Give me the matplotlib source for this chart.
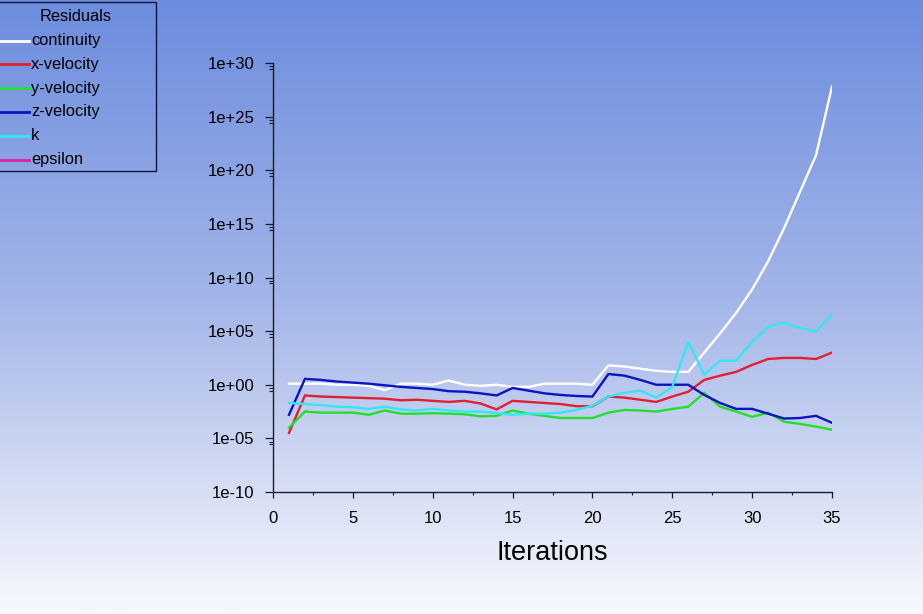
import numpy as np
import matplotlib
matplotlib.use("Agg")
import matplotlib.pyplot as plt
from matplotlib.lines import Line2D
from matplotlib.patches import Rectangle
from matplotlib.ticker import FixedLocator, FuncFormatter

plt.rcParams['font.family'] = ['Liberation Sans', 'DejaVu Sans']

iterations = list(range(1, 36))
series_names = ["continuity", "x-velocity", "y-velocity", "z-velocity", "k", "epsilon"]
series_colors = ["#ffffff", "#e0202c", "#22e02a", "#0a14c0", "#33e6f2", "#e0209e"]

# log10 of residuals
continuity_log = [0.1, 0.1, 0.1, 0.0, 0.0, -0.1, -0.5, 0.1, 0.1, 0.0,
                  0.4, 0.0, -0.1, 0.0, -0.2, -0.2, 0.1, 0.1, 0.1, 0.0,
                  1.8, 1.7, 1.5, 1.3, 1.2, 1.2, 3.0, 4.8, 6.7, 8.9,
                  11.5, 14.6, 18.0, 21.4, 27.8]
xvel_log = [-4.5, -1.0, -1.1, -1.15, -1.2, -1.25, -1.3, -1.45, -1.4, -1.5,
            -1.6, -1.5, -1.75, -2.3, -1.5, -1.6, -1.7, -1.8, -2.0, -2.0,
            -1.1, -1.2, -1.4, -1.6, -1.1, -0.65, 0.45, 0.85, 1.2, 1.85,
            2.4, 2.5, 2.5, 2.4, 3.0]
yvel_log = [-4.0, -2.5, -2.6, -2.6, -2.6, -2.8, -2.4, -2.7, -2.7, -2.65,
            -2.7, -2.75, -2.95, -2.9, -2.4, -2.7, -2.9, -3.1, -3.1, -3.1,
            -2.6, -2.35, -2.4, -2.5, -2.25, -2.05, -0.75, -2.05, -2.5, -3.0,
            -2.6, -3.45, -3.65, -3.9, -4.2]
zvel_log = [-2.8, 0.55, 0.45, 0.3, 0.2, 0.1, -0.05, -0.2, -0.3, -0.4,
            -0.6, -0.65, -0.8, -1.0, -0.3, -0.55, -0.8, -0.95, -1.05, -1.1,
            1.0, 0.85, 0.45, 0.0, 0.0, 0.0, -0.95, -1.7, -2.25, -2.25,
            -2.7, -3.15, -3.1, -2.9, -3.55]
k_log = [-1.7, -1.8, -1.9, -2.05, -2.1, -2.25, -2.05, -2.3, -2.4, -2.25,
         -2.4, -2.5, -2.5, -2.65, -2.8, -2.7, -2.7, -2.6, -2.35, -1.95,
         -1.1, -0.75, -0.55, -1.2, -0.2, 4.0, 0.95, 2.25, 2.25, 4.0,
         5.4, 5.8, 5.3, 4.95, 6.6]
epsilon_log = []  # not visible in the plot area

series_data = [continuity_log, xvel_log, yvel_log, zvel_log, k_log, epsilon_log]

y_major_exp = [-10, -5, 0, 5, 10, 15, 20, 25, 30]
x_major = [0, 5, 10, 15, 20, 25, 30, 35]

W, H = 923, 614
fig = plt.figure(figsize=(W / 100, H / 100), dpi=100)

# background gradient
bg = fig.add_axes([0, 0, 1, 1], zorder=-10)
top = np.array([108, 140, 222]) / 255
mid = np.array([165, 183, 233]) / 255
bot = np.array([248, 249, 253]) / 255
cols = np.zeros((256, 1, 3))
for i, tv in enumerate(np.linspace(0, 1, 256)):
    if tv < 0.5:
        c = top + (mid - top) * (tv / 0.5)
    else:
        c = mid + (bot - mid) * ((tv - 0.5) / 0.5)
    cols[i, 0] = c
bg.imshow(cols, aspect='auto', extent=[0, 1, 0, 1], origin='upper')
bg.set_axis_off()

ax = fig.add_axes([273 / W, 1 - 492 / H, (832 - 273) / W, (492 - 63) / H])
ax.set_facecolor('none')
for name, col, d in zip(series_names, series_colors, series_data):
    if len(d):
        ax.plot(iterations[:len(d)], 10.0 ** np.array(d), color=col, lw=1.7,
                solid_joinstyle='miter')

ax.set_yscale('log')
ax.set_xlim(0, 35)
ax.set_ylim(1e-10, 1e30)
ax.spines['top'].set_visible(False)
ax.spines['right'].set_visible(False)
for s in ('left', 'bottom'):
    ax.spines[s].set_color('#1a1a2a')
    ax.spines[s].set_linewidth(1.0)

ax.yaxis.set_major_locator(FixedLocator([10.0 ** e for e in y_major_exp]))
ax.yaxis.set_major_formatter(FuncFormatter(lambda v, p: f"{v:.0e}"))
minor_y = []
for e in y_major_exp[1:]:
    minor_y += [10.0 ** (e - 0.3), 10.0 ** (e - 0.55)]
ax.yaxis.set_minor_locator(FixedLocator(minor_y))
ax.yaxis.set_minor_formatter(FuncFormatter(lambda v, p: ""))

ax.xaxis.set_major_locator(FixedLocator(x_major))
ax.xaxis.set_minor_locator(FixedLocator([x + 2.5 for x in x_major[:-1]]))

ax.tick_params(axis='y', which='major', direction='out', length=5.5, width=0.9,
               pad=8, labelsize=12, colors='#1a1a2a', labelcolor='black')
ax.tick_params(axis='y', which='minor', direction='out', length=3, width=0.8,
               colors='#1a1a2a')
ax.tick_params(axis='x', which='major', direction='out', length=4, width=0.9,
               pad=10, labelsize=12, colors='#1a1a2a', labelcolor='black')
ax.tick_params(axis='x', which='minor', direction='out', length=2, width=0.8,
               colors='#1a1a2a')
ax.set_xlabel("Iterations", fontsize=19.5, labelpad=10, color='black')

# legend drawn in figure pixel coordinates
fig.patches.append(Rectangle((-5, H - 171), 161, 169, transform=None,
                             fill=False, edgecolor='#15153a', linewidth=1.0,
                             figure=fig))
fig.text(76 / W, 1 - 16.5 / H, "Residuals", ha='center', va='center', fontsize=11.8)
for i, (name, col) in enumerate(zip(series_names, series_colors)):
    yy = 40.5 + i * 23.8
    fig.lines.append(Line2D([-2, 29], [H - yy, H - yy], transform=None,
                            color=col, lw=2.0, figure=fig))
    fig.text(31 / W, 1 - yy / H, name, ha='left', va='center', fontsize=11.8)

fig.savefig("out.png", dpi=100)
